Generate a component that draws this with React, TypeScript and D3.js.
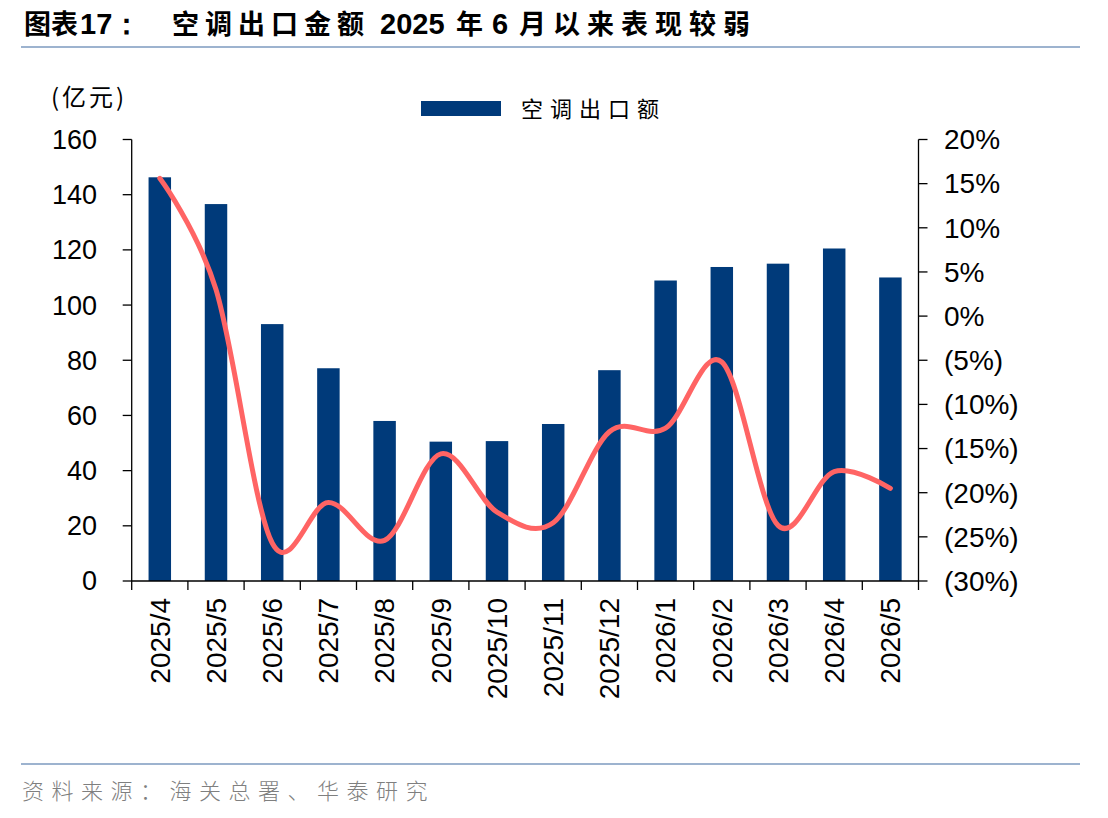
import { useRef, useEffect } from "react";
import * as d3 from "d3";

// 月份
const categories = [
  "2025/4", "2025/5", "2025/6", "2025/7", "2025/8", "2025/9", "2025/10",
  "2025/11", "2025/12", "2026/1", "2026/2", "2026/3", "2026/4", "2026/5",
];
// 空调出口额 (亿元)
const exportValues = [146.3, 136.6, 93.1, 77.1, 58.0, 50.5, 50.7, 56.9, 76.4, 108.9, 113.8, 115.0, 120.5, 110.0];
// 同比 (%)
const yoyValues = [15.6, 3.0, -25.7, -21.1, -25.4, -15.6, -22.2, -23.4, -13.1, -12.7, -5.2, -23.7, -17.6, -19.5];
const leftTicks = [0, 20, 40, 60, 80, 100, 120, 140, 160];
const rightTicks = [20, 15, 10, 5, 0, -5, -10, -15, -20, -25, -30];

const W = 1108;
const H = 818;
const NUM_FONT = "'Liberation Sans', Arial, sans-serif";
const CJK_FONT = "'Noto Sans CJK SC', sans-serif";

export default function App() {
  const svgRef = useRef(null);

  useEffect(() => {
    const svg = d3.select(svgRef.current);
    svg.selectAll("*").remove();

    const left = 131.7, right = 918.5, top = 139.5, bottom = 581;

    const x = d3.scaleBand().domain(categories).range([left, right]).paddingInner(0.6).paddingOuter(0.3);
    const yL = d3.scaleLinear().domain([0, 160]).range([bottom, top]);
    const yR = d3.scaleLinear().domain([-30, 20]).range([bottom, top]);

    // title
    const title = svg.append("g").attr("font-family", CJK_FONT).attr("font-weight", "bold").attr("font-size", 27).attr("fill", "#000");
    title.append("text").attr("x", 24).attr("y", 34).text("图表");
    title.append("text").attr("x", 80).attr("y", 34).attr("font-family", NUM_FONT).attr("font-size", 29).text("17：");
    title.append("text").attr("x", 172).attr("y", 34).attr("letter-spacing", 6).text("空调出口金额");
    title.append("text").attr("x", 380).attr("y", 34).attr("font-family", NUM_FONT).attr("font-size", 29).text("2025");
    title.append("text").attr("x", 456).attr("y", 34).text("年");
    title.append("text").attr("x", 492).attr("y", 34).attr("font-family", NUM_FONT).attr("font-size", 29).text("6");
    title.append("text").attr("x", 519).attr("y", 34).attr("letter-spacing", 7).text("月以来表现较弱");

    svg.append("line").attr("x1", 21).attr("x2", 1080).attr("y1", 47).attr("y2", 47)
      .attr("stroke", "#9db3cf").attr("stroke-width", 2.2);

    // unit label
    svg.append("text").attr("x", 51).attr("y", 106).attr("font-family", CJK_FONT).attr("font-size", 24)
      .attr("letter-spacing", 3).attr("fill", "#000").text("(亿元)");

    // legend
    svg.append("rect").attr("x", 421).attr("y", 101).attr("width", 80).attr("height", 15).attr("fill", "#003a7a");
    svg.append("text").attr("x", 521).attr("y", 117).attr("font-family", CJK_FONT).attr("font-size", 22)
      .attr("letter-spacing", 7).attr("fill", "#000").text("空调出口额");

    // bars
    svg.append("g").selectAll("rect").data(exportValues).enter().append("rect")
      .attr("x", (d, i) => x(categories[i]))
      .attr("y", (d) => yL(d))
      .attr("width", x.bandwidth())
      .attr("height", (d) => bottom - yL(d))
      .attr("fill", "#003a7a");

    // yoy line
    const line = d3.line()
      .x((d, i) => x(categories[i]) + x.bandwidth() / 2)
      .y((d) => yR(d))
      .curve(d3.curveCardinal.tension(0));
    svg.append("path").datum(yoyValues).attr("d", line)
      .attr("fill", "none").attr("stroke", "#ff6464").attr("stroke-width", 5)
      .attr("stroke-linecap", "round").attr("stroke-linejoin", "round");

    // axes
    const axisG = svg.append("g").attr("stroke", "#000").attr("stroke-width", 1.3);
    axisG.append("line").attr("x1", left).attr("x2", left).attr("y1", top).attr("y2", bottom);
    axisG.append("line").attr("x1", right).attr("x2", right).attr("y1", top).attr("y2", bottom);
    axisG.append("line").attr("x1", left).attr("x2", right).attr("y1", bottom).attr("y2", bottom);

    axisG.selectAll("line.lt").data(leftTicks).enter().append("line").attr("class", "lt")
      .attr("x1", left - 9).attr("x2", left).attr("y1", (d) => yL(d)).attr("y2", (d) => yL(d));
    axisG.selectAll("line.rt").data(rightTicks).enter().append("line").attr("class", "rt")
      .attr("x1", right).attr("x2", right + 9).attr("y1", (d) => yR(d)).attr("y2", (d) => yR(d));

    const step = x.step();
    const bounds = d3.range(categories.length + 1).map((i) => left + i * step);
    axisG.selectAll("line.bt").data(bounds).enter().append("line").attr("class", "bt")
      .attr("x1", (d) => d).attr("x2", (d) => d).attr("y1", bottom).attr("y2", bottom + 9);

    const labels = svg.append("g").attr("font-family", NUM_FONT).attr("font-size", 27).attr("fill", "#000");
    labels.selectAll("text.ll").data(leftTicks).enter().append("text").attr("class", "ll")
      .attr("x", 97).attr("y", (d) => yL(d)).attr("dy", "0.35em").attr("text-anchor", "end")
      .text((d) => d);

    const pct = (d) => (d < 0 ? `(${-d}%)` : `${d}%`);
    labels.selectAll("text.rl").data(rightTicks).enter().append("text").attr("class", "rl")
      .attr("x", 944).attr("y", (d) => yR(d)).attr("dy", "0.35em").attr("text-anchor", "start")
      .attr("font-size", 28)
      .text(pct);

    labels.selectAll("text.xl").data(categories).enter().append("text").attr("class", "xl")
      .attr("transform", (d) => `translate(${x(d) + x.bandwidth() / 2},598) rotate(-90)`)
      .attr("dy", "0.35em").attr("text-anchor", "end").attr("font-size", 28)
      .text((d) => d);

    // source
    svg.append("line").attr("x1", 21).attr("x2", 1080).attr("y1", 764).attr("y2", 764)
      .attr("stroke", "#9db3cf").attr("stroke-width", 2.2);
    svg.append("text").attr("x", 22).attr("y", 799).attr("font-family", CJK_FONT).attr("font-size", 22)
      .attr("font-weight", 300).attr("letter-spacing", 7.5).attr("fill", "#7f7f7f").text("资料来源：海关总署、华泰研究");
  }, []);

  return (
    <svg ref={svgRef} width={W} height={H}
      style={{ position: "absolute", left: 0, top: 0, background: "#fff" }} />
  );
}
